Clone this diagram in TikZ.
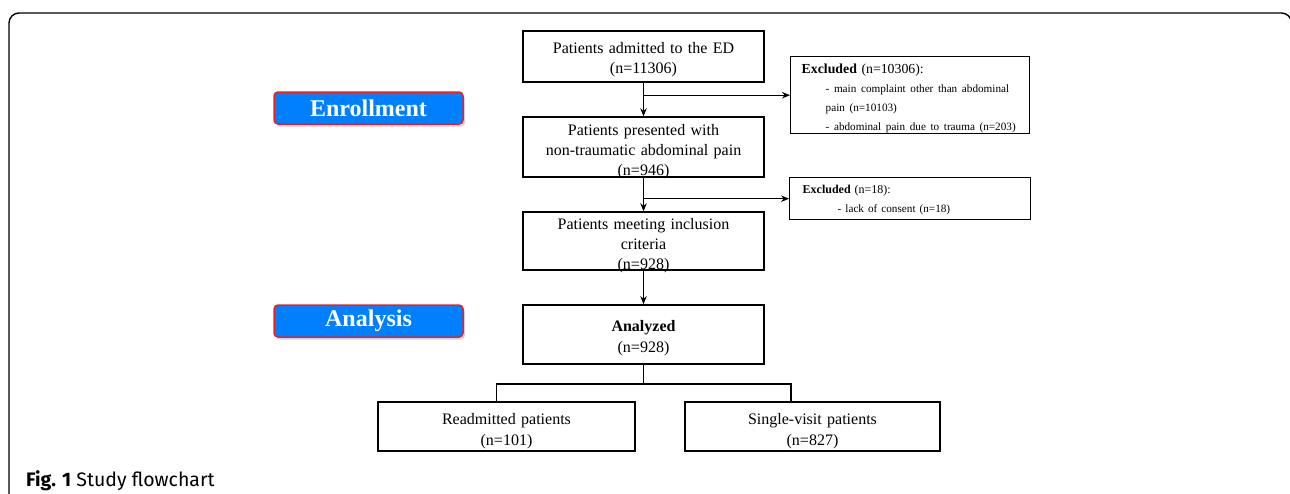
\documentclass[tikz,border=0pt]{standalone}
\usepackage{fontspec}
\setmainfont{Liberation Serif}
\newfontfamily\capfont{Fira Sans}
\usetikzlibrary{arrows.meta, positioning, shadows}

\definecolor{tagblue}{RGB}{0,128,255}
\definecolor{tagred}{RGB}{232,32,42}

\newcommand{\subline}[2]{\hspace*{#1}\mbox{\fontsize{11.2}{19}\selectfont #2}}

\begin{document}
\begin{tikzpicture}[
    x=1pt, y=-1pt,
    box/.style={draw, line width=1.4pt, text width=241pt, align=center,
                inner sep=0pt, font=\fontsize{16}{20.2}\selectfont},
    exbox/.style={draw, line width=1.4pt, align=left, inner ysep=0pt,
                  font=\fontsize{12.5}{19}\selectfont},
    tag/.style={draw=tagred, fill=tagblue, line width=1.5pt, rounded corners=4pt,
                minimum width=189pt, minimum height=32pt, text=white,
                font=\fontsize{24}{26}\selectfont\bfseries,
                drop shadow={shadow xshift=2pt, shadow yshift=-2.5pt, opacity=0.35}},
    link/.style={line width=0.9pt},
    arr/.style={link, -{Stealth[length=8pt, width=6.5pt]}},
  ]
  \useasboundingbox (0,0) rectangle (1290,493);
  % outer frame
  \draw[line width=1.4pt, rounded corners=10pt] (9,494) -- (9,13) -- (1291.5,13) -- (1291.5,494);

  % stage labels
  \node[tag] (enrol) at (368.5,108) {Enrollment};
  \node[tag] (anal)  at (368.5,321) {Analysis};

  % main column
  \node[box, text height=22pt, text depth=29pt] (admit) at (643.5,56.5)
    {Patients admitted to the ED\\(n=11306)};
  \node[box, text height=18pt, text depth=42pt] (pain) at (643.5,147)
    {Patients presented with\\non-traumatic abdominal pain\\(n=946)};
  \node[box, text height=17pt, text depth=41pt] (incl) at (643.5,241)
    {Patients meeting inclusion\\criteria\\(n=928)};
  \node[box, text height=26pt, text depth=33pt, line width=1.7pt,
        font=\fontsize{16}{21}\selectfont] (analyzed) at (643.5,334.5)
    {\textbf{Analyzed}\\(n=928)};

  % exclusions
  \node[exbox, anchor=north west, text height=17pt, text depth=60pt,
        inner xsep=11pt, text width=217pt, font=\fontsize{13.8}{19}\selectfont] (excl1) at (790,56)
    {\textbf{Excluded} (n=10306):\\
     \subline{24pt}{- main complaint other than abdominal}\\
     \subline{24pt}{pain (n=10103)}\\
     \subline{24pt}{- abdominal pain due to trauma (n=203)}};
  \node[exbox, anchor=north west, text height=16pt, text depth=26pt,
        inner xsep=13pt, text width=215pt, font=\fontsize{12}{19}\selectfont] (excl2) at (789,177)
    {\textbf{Excluded} (n=18):\\
     \subline{35pt}{- lack of consent (n=18)}};

  % groups
  \node[box, text width=257pt, text height=22pt, text depth=27pt,
        font=\fontsize{16}{21}\selectfont] (readm) at (506.5,426.5)
    {Readmitted patients\\(n=101)};
  \node[box, text width=255pt, text height=22pt, text depth=27pt,
        font=\fontsize{16}{21}\selectfont] (single) at (812.5,426.5)
    {Single-visit patients\\(n=827)};

  \coordinate (split) at (643.5,384);

  % connectors
  \draw[arr] (admit) -- (pain);
  \draw[arr] (admit.south |- excl1.west) -- (excl1.west);
  \draw[arr] (pain) -- (incl);
  \draw[arr] (pain.south |- excl2.west) -- (excl2.west);
  \draw[arr] (incl) -- (analyzed);
  \draw[link, line width=1.4pt] (analyzed.south) -- (split);
  \draw[link, line width=1.4pt] (split) -| ([xshift=-10pt]readm.north);
  \draw[link, line width=1.4pt] (split) -| ([xshift=-21.5pt]single.north);

  % caption
  \node[anchor=base west, inner sep=0pt, font=\capfont\fontsize{19.5}{21}\selectfont] (cap) at (26,486)
    {\textbf{Fig. 1} Study flowchart};
\end{tikzpicture}
\end{document}
